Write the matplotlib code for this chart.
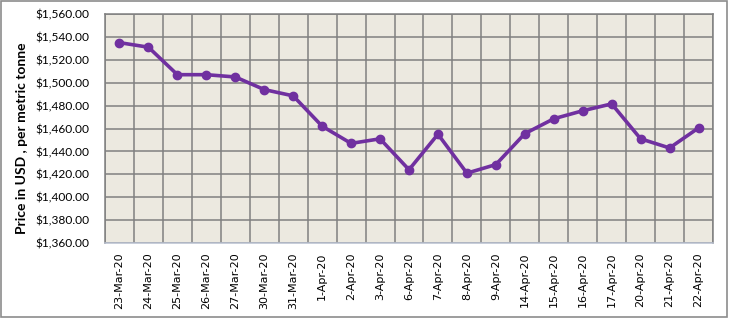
import matplotlib
matplotlib.use("Agg")
import matplotlib.pyplot as plt
from matplotlib.patches import Rectangle
import numpy as np

dates = ["23-Mar-20", "24-Mar-20", "25-Mar-20", "26-Mar-20", "27-Mar-20",
         "30-Mar-20", "31-Mar-20", "1-Apr-20", "2-Apr-20", "3-Apr-20",
         "6-Apr-20", "7-Apr-20", "8-Apr-20", "9-Apr-20", "14-Apr-20",
         "15-Apr-20", "16-Apr-20", "17-Apr-20", "20-Apr-20", "21-Apr-20",
         "22-Apr-20"]
prices = [1535, 1531, 1507, 1507, 1505, 1494, 1488.5, 1462, 1447, 1451,
          1424, 1455, 1421, 1428.5, 1455.5, 1468.5, 1475.5, 1481.5, 1451,
          1443, 1460.5]
y_ticks = list(range(1360, 1561, 20))

fig = plt.figure(figsize=(7.29, 3.19), dpi=100)
fig.patch.set_facecolor("white")
fig.add_artist(Rectangle((0.002, 0.006), 0.995, 0.99, transform=fig.transFigure,
                         fill=False, edgecolor="#8c8c8c", linewidth=1.2))

ax = fig.add_axes([105/729, 1 - 243/319, 608/729, 229/319])
ax.set_facecolor("#ECE9E0")
n = len(dates)
x = np.arange(n)
ax.plot(x, prices, color="#7030A0", linewidth=2.6, marker="o", markersize=6,
        zorder=3)
ax.set_xlim(-0.5, n - 0.5)
ax.set_ylim(1360, 1560)
ax.set_yticks(y_ticks)
ax.set_yticklabels([f"${v:,.2f}" for v in y_ticks], family="Lato", fontsize=8.6)
ax.set_xticks(x)
ax.set_xticklabels(dates, rotation=90, family="DejaVu Sans", fontsize=8)
ax.set_xticks(np.arange(-0.5, n, 1), minor=True)
ax.grid(True, which="minor", axis="x", color="#808080", linewidth=1.1)
ax.grid(True, which="major", axis="y", color="#808080", linewidth=1.1)
ax.grid(False, which="major", axis="x")
ax.tick_params(axis="both", which="both", length=0)
ax.tick_params(axis="x", pad=7)
ax.tick_params(axis="y", pad=11)
for s in ["top", "right", "left"]:
    ax.spines[s].set_color("#808080")
    ax.spines[s].set_linewidth(1.1)
ax.spines["bottom"].set_color("#B8C0D0")
ax.spines["bottom"].set_linewidth(1.1)
ax.set_axisbelow(True)

fig.text(22/729, 1 - 138/319, "Price in USD , per metric tonne", rotation=90,
         ha="center", va="center", fontsize=10, fontweight="bold", family="Lato")

fig.savefig("out.png", dpi=100, facecolor="white")
